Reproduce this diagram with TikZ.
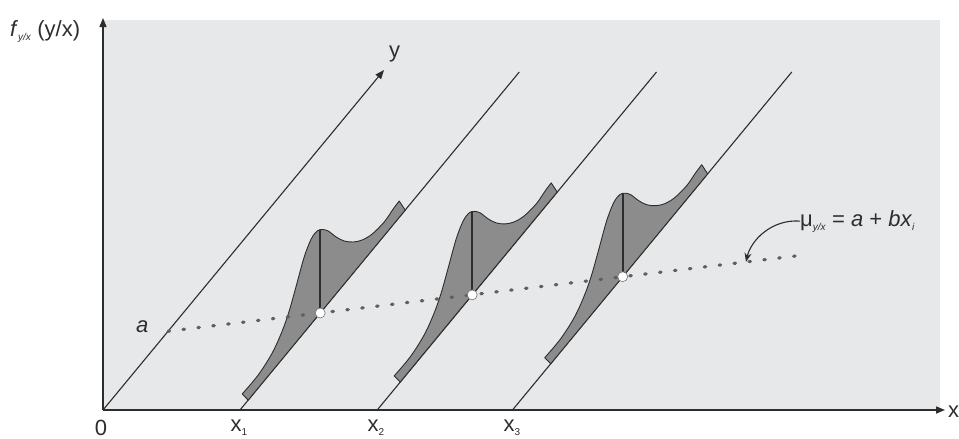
\documentclass[tikz,border=0pt]{standalone}
\usepackage{fontspec}
\setmainfont{Liberation Sans}
\usetikzlibrary{arrows.meta}
\definecolor{bgc}{RGB}{230,232,234}
\definecolor{ink}{RGB}{45,45,45}
\definecolor{densfill}{RGB}{140,140,140}
\definecolor{dotc}{RGB}{95,95,95}
\newcommand\subtxt[1]{\raisebox{-0.35ex}{\fontsize{10}{10}\selectfont #1}}
\begin{document}
\begin{tikzpicture}[x=1pt,y=-1pt,
  axisline/.style={draw=ink,line width=1.4pt},
  yline/.style={draw=ink,line width=1.1pt},
  tiparrow/.style={-{Triangle[length=9pt,width=7pt]}},
  lab/.style={text=ink,font=\fontsize{22}{24}\selectfont,inner sep=0pt},
  meanline/.style={draw=dotc,line width=3.2pt,line cap=round,dash pattern=on 1.5pt off 13.5pt},
  dist/.pic={
    \filldraw[fill=densfill,draw=ink,line width=0.9pt,line join=round]
      (-72,87.1) -- plot[smooth,tension=0.55] coordinates {(-78,81) (-62,62) (-48,40) (-38,18) (-31,-2) (-24,-27) (-16,-56) (-9,-74) (-3,-82) (2,-83.5) (8,-82) (16,-76) (24,-72) (33,-71) (42,-73) (52,-79) (64,-91) (73,-104) (79,-112)} -- (85,-102.9) -- cycle;
  }
]
\useasboundingbox (0,0) rectangle (959,439);
\fill[bgc] (103,20) rectangle (940,410);

% coordinates
\coordinate (O) at (103,410);
\coordinate (Ytop) at (103,18);
\coordinate (Xend) at (945,410);
\coordinate (b1) at (240,410);
\coordinate (b2) at (377.2,410);
\coordinate (b3) at (512.5,410);
\coordinate (t0) at (384,70);
\coordinate (t1) at (519.3,72);
\coordinate (t2) at (656.5,72);
\coordinate (t3) at (791.8,72);
\coordinate (c1) at (320.2,313);
\coordinate (c2) at (472.2,294.9);
\coordinate (c3) at (622.7,276.7);
\coordinate (A) at (168.1,331.2);
\coordinate (D) at (808,254.5);
\coordinate (mp) at (746,261.9);

% oblique lines
\draw[yline] (b1) -- (t1);
\draw[yline] (b2) -- (t2);
\draw[yline] (b3) -- (t3);
\draw[yline,tiparrow] (O) -- (t0);

% densities
\pic at (c1) {dist};
\pic at (c2) {dist};
\pic at (c3) {dist};

% regression line
\draw[meanline] (A) -- (D);

% vertical lines and means
\foreach \c in {c1,c2,c3}{
  \draw[ink,line width=1.6pt] (\c) -- ++(0,-83);
  \filldraw[fill=white,draw=black!55,line width=0.6pt] (\c) circle (5pt);
}

% axes
\draw[axisline,tiparrow] (O) -- (Ytop);
\draw[axisline,tiparrow] (O) -- (Xend);

% labels
\node[lab,anchor=base west] (fl) at (10,36) {\textit{f}\subtxt{\textit{y/x}} (y/x)};
\node[lab,anchor=base west] (ylab) at (389,57) {y};
\node[lab,anchor=west] (xlab) at (948,412) {x};
\node[lab] (zero) at (101,428) {0};
\node[lab] (lx1) at (239,428) {x\subtxt{1}};
\node[lab] (lx2) at (376,428) {x\subtxt{2}};
\node[lab] (lx3) at (512,428) {x\subtxt{3}};
\node[lab,anchor=base west] (alab) at (136,332) {\textit{a}};
\node[lab,anchor=base west] (mu) at (800,226) {μ\subtxt{\textit{y/x}} = \textit{a} + \textit{bx}\subtxt{\textit{i}}};

\draw[ink,line width=1.1pt,-{Stealth[length=9pt,width=7pt]}] (mu.west) .. controls (772,219) and (751,240) .. (mp);
\end{tikzpicture}
\end{document}
